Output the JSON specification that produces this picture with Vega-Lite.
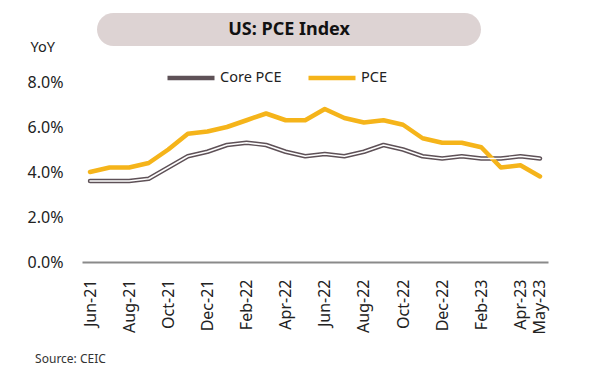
{
  "$schema": "https://vega.github.io/schema/vega-lite/v6.json",
  "background": "white",
  "padding": {"left": 27, "top": 13, "right": 5, "bottom": 5},
  "config": {"font": "Noto Sans", "view": {"stroke": null}},
  "spacing": -7,
  "resolve": {"legend": {"color": "independent"}, "scale": {"color": "independent"}},
  "vconcat": [
    {
      "spacing": 14,
      "hconcat": [
        {
          "width": 1,
          "height": 33,
          "data": {"values": [{"t": ""}]},
          "mark": {"type": "text"},
          "encoding": {"text": {"field": "t"}}
        },
        {
          "width": 384,
          "height": 33,
          "view": {"fill": "#ddd3d3", "cornerRadius": 16.5, "stroke": null},
          "data": {"values": [{"t": "US: PCE Index"}]},
          "mark": {"type": "text", "fontSize": 18, "fontWeight": "bold", "color": "#111", "baseline": "middle", "align": "center"},
          "encoding": {"text": {"field": "t"}}
        }
      ]
    },
    {
      "width": 466,
      "height": 180,
      "title": {"text": "Source: CEIC", "orient": "bottom", "anchor": "start", "frame": "bounds", "fontSize": 12, "fontWeight": "normal", "color": "#333", "offset": 20, "dx": 8},
      "data": {"values": [
        {"month": "Jun-21", "series": "Core PCE", "value": 3.6},
        {"month": "Jul-21", "series": "Core PCE", "value": 3.6},
        {"month": "Aug-21", "series": "Core PCE", "value": 3.6},
        {"month": "Sep-21", "series": "Core PCE", "value": 3.7},
        {"month": "Oct-21", "series": "Core PCE", "value": 4.2},
        {"month": "Nov-21", "series": "Core PCE", "value": 4.7},
        {"month": "Dec-21", "series": "Core PCE", "value": 4.9},
        {"month": "Jan-22", "series": "Core PCE", "value": 5.2},
        {"month": "Feb-22", "series": "Core PCE", "value": 5.3},
        {"month": "Mar-22", "series": "Core PCE", "value": 5.2},
        {"month": "Apr-22", "series": "Core PCE", "value": 4.9},
        {"month": "May-22", "series": "Core PCE", "value": 4.7},
        {"month": "Jun-22", "series": "Core PCE", "value": 4.8},
        {"month": "Jul-22", "series": "Core PCE", "value": 4.7},
        {"month": "Aug-22", "series": "Core PCE", "value": 4.9},
        {"month": "Sep-22", "series": "Core PCE", "value": 5.2},
        {"month": "Oct-22", "series": "Core PCE", "value": 5.0},
        {"month": "Nov-22", "series": "Core PCE", "value": 4.7},
        {"month": "Dec-22", "series": "Core PCE", "value": 4.6},
        {"month": "Jan-23", "series": "Core PCE", "value": 4.7},
        {"month": "Feb-23", "series": "Core PCE", "value": 4.6},
        {"month": "Mar-23", "series": "Core PCE", "value": 4.6},
        {"month": "Apr-23", "series": "Core PCE", "value": 4.7},
        {"month": "May-23", "series": "Core PCE", "value": 4.6},
        {"month": "Jun-21", "series": "PCE", "value": 4.0},
        {"month": "Jul-21", "series": "PCE", "value": 4.2},
        {"month": "Aug-21", "series": "PCE", "value": 4.2},
        {"month": "Sep-21", "series": "PCE", "value": 4.4},
        {"month": "Oct-21", "series": "PCE", "value": 5.0},
        {"month": "Nov-21", "series": "PCE", "value": 5.7},
        {"month": "Dec-21", "series": "PCE", "value": 5.8},
        {"month": "Jan-22", "series": "PCE", "value": 6.0},
        {"month": "Feb-22", "series": "PCE", "value": 6.3},
        {"month": "Mar-22", "series": "PCE", "value": 6.6},
        {"month": "Apr-22", "series": "PCE", "value": 6.3},
        {"month": "May-22", "series": "PCE", "value": 6.3},
        {"month": "Jun-22", "series": "PCE", "value": 6.8},
        {"month": "Jul-22", "series": "PCE", "value": 6.4},
        {"month": "Aug-22", "series": "PCE", "value": 6.2},
        {"month": "Sep-22", "series": "PCE", "value": 6.3},
        {"month": "Oct-22", "series": "PCE", "value": 6.1},
        {"month": "Nov-22", "series": "PCE", "value": 5.5},
        {"month": "Dec-22", "series": "PCE", "value": 5.3},
        {"month": "Jan-23", "series": "PCE", "value": 5.3},
        {"month": "Feb-23", "series": "PCE", "value": 5.1},
        {"month": "Mar-23", "series": "PCE", "value": 4.2},
        {"month": "Apr-23", "series": "PCE", "value": 4.3},
        {"month": "May-23", "series": "PCE", "value": 3.8}
      ]},
      "encoding": {
        "x": {
          "field": "month", "type": "ordinal",
          "sort": ["Jun-21","Jul-21","Aug-21","Sep-21","Oct-21","Nov-21","Dec-21","Jan-22","Feb-22","Mar-22","Apr-22","May-22","Jun-22","Jul-22","Aug-22","Sep-22","Oct-22","Nov-22","Dec-22","Jan-23","Feb-23","Mar-23","Apr-23","May-23"],
          "scale": {"type": "point", "padding": 0.41},
          "axis": {
            "title": null,
            "values": ["Jun-21","Aug-21","Oct-21","Dec-21","Feb-22","Apr-22","Jun-22","Aug-22","Oct-22","Dec-22","Feb-23","Apr-23","May-23"],
            "labelAngle": -90,
            "labelFontSize": 16,
            "labelColor": "#222",
            "labelPadding": 17,
            "ticks": false,
            "tickSize": 0,
            "domainColor": "#8a8a8a",
            "domainWidth": 2,
            "grid": false
          }
        },
        "y": {
          "field": "value", "type": "quantitative",
          "scale": {"domain": [0, 8], "nice": false},
          "axis": {
            "values": [0, 2, 4, 6, 8],
            "labelExpr": "format(datum.value, '.1f') + '%'",
            "labelFontSize": 16,
            "labelColor": "#222",
            "labelPadding": 19,
            "ticks": false,
            "tickSize": 0,
            "domain": false,
            "grid": false,
            "title": "YoY",
            "titleAngle": 0,
            "titleAlign": "left",
            "titleBaseline": "middle",
            "titleX": -52,
            "titleY": -35,
            "titleFontSize": 14.5,
            "titleFontWeight": "normal",
            "titleColor": "#222"
          }
        }
      },
      "layer": [
        {
          "mark": {"type": "line", "strokeWidth": 4.5, "strokeCap": "round", "strokeJoin": "round"},
          "encoding": {
            "color": {
              "field": "series", "type": "nominal",
              "scale": {"domain": ["Core PCE", "PCE"], "range": ["#5e5157", "#f5b41a"]},
              "legend": {
                "title": null,
                "orient": "none",
                "legendX": 83,
                "legendY": -30,
                "direction": "horizontal",
                "symbolType": "stroke",
                "symbolSize": 2209,
                "symbolStrokeWidth": 4.5,
                "labelFontSize": 14.5,
                "labelColor": "#222",
                "labelOffset": 3,
                "columnPadding": 17,
                "padding": 0
              }
            }
          }
        },
        {
          "transform": [{"filter": "datum.series === 'Core PCE'"}],
          "mark": {"type": "line", "strokeWidth": 1.6, "color": "white", "strokeCap": "round", "strokeJoin": "round"},
          "encoding": {}
        }
      ]
    }
  ]
}
